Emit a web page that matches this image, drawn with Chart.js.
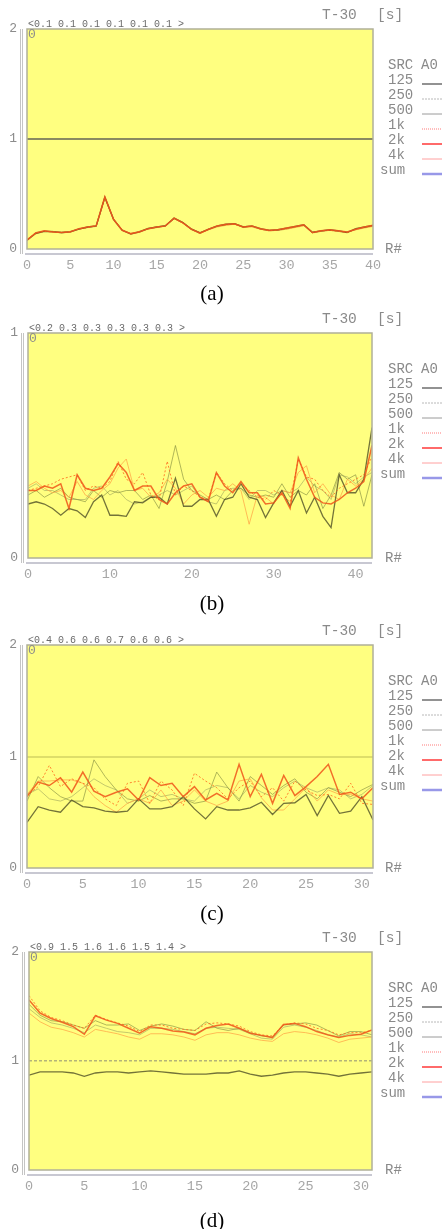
<!DOCTYPE html>
<html lang="en">
<head>
<meta charset="UTF-8">
<title>T-30 per receiver</title>
<script src="https://cdn.jsdelivr.net/npm/chart.js"></script>
<style>
  body { margin: 0; background: #fff; }
  #page { position: relative; width: 442px; height: 1229px; overflow: hidden; }
  #page canvas { position: absolute; left: 0; }
  .cap { position: absolute; left: 0; width: 424px; text-align: center; font: 21px "Liberation Serif", "Times New Roman", serif; color: #000; line-height: 24px; }
</style>
</head>
<body>
<div id="page">
  <canvas id="ca" width="442" height="300" style="top:0px"></canvas>
  <canvas id="cb" width="442" height="300" style="top:304px"></canvas>
  <canvas id="cc" width="442" height="300" style="top:616px"></canvas>
  <canvas id="cd" width="442" height="300" style="top:923px"></canvas>
  <div class="cap" style="top:281px">(a)</div>
  <div class="cap" style="top:591px">(b)</div>
  <div class="cap" style="top:901px">(c)</div>
  <div class="cap" style="top:1208px">(d)</div>
</div>
<script>
// octave bands shown in the legend
const bands = ['125', '250', '500', '1k', '2k', '4k', 'sum'];

// (a)  T-30 per receiver, 0..40
const aHead = '<0.1 0.1 0.1 0.1 0.1 0.1 >';
const a125 = [0.08,0.14,0.16,0.155,0.15,0.155,0.18,0.2,0.21,0.47,0.27,0.17,0.135,0.155,0.185,0.2,0.21,0.28,0.24,0.18,0.145,0.18,0.21,0.225,0.23,0.2,0.21,0.185,0.17,0.175,0.19,0.205,0.22,0.15,0.165,0.175,0.165,0.15,0.185,0.2,0.215];
const a250 = [0.085,0.145,0.165,0.16,0.15,0.16,0.185,0.195,0.21,0.475,0.275,0.175,0.14,0.16,0.19,0.2,0.215,0.285,0.245,0.185,0.15,0.18,0.205,0.22,0.23,0.205,0.205,0.18,0.17,0.17,0.185,0.2,0.215,0.155,0.165,0.17,0.16,0.15,0.18,0.195,0.21];
const a500 = [0.08,0.15,0.16,0.16,0.145,0.155,0.18,0.195,0.205,0.465,0.27,0.17,0.14,0.155,0.185,0.195,0.21,0.275,0.24,0.18,0.15,0.175,0.205,0.22,0.225,0.2,0.205,0.18,0.165,0.17,0.18,0.2,0.215,0.15,0.16,0.17,0.165,0.155,0.175,0.195,0.21];
const a1k = [0.085,0.145,0.16,0.155,0.15,0.16,0.18,0.195,0.215,0.47,0.27,0.175,0.135,0.16,0.185,0.2,0.205,0.28,0.235,0.18,0.14,0.18,0.21,0.22,0.225,0.2,0.21,0.18,0.165,0.175,0.185,0.2,0.22,0.15,0.165,0.17,0.16,0.15,0.18,0.2,0.21];
const a2k = [0.08,0.145,0.165,0.155,0.15,0.155,0.185,0.2,0.21,0.475,0.27,0.17,0.14,0.155,0.185,0.2,0.21,0.28,0.24,0.18,0.145,0.18,0.21,0.225,0.23,0.2,0.21,0.185,0.17,0.175,0.19,0.205,0.22,0.15,0.165,0.175,0.165,0.155,0.18,0.2,0.215];
const a4k = [0.09,0.14,0.16,0.16,0.15,0.16,0.18,0.2,0.205,0.46,0.27,0.17,0.14,0.16,0.18,0.195,0.21,0.275,0.235,0.175,0.14,0.175,0.2,0.215,0.225,0.195,0.2,0.18,0.165,0.17,0.18,0.195,0.21,0.145,0.16,0.17,0.16,0.15,0.175,0.19,0.205];

// (b)  0..42
const bHead = '<0.2 0.3 0.3 0.3 0.3 0.3 >';
const b125 = [0.24,0.25,0.24,0.22,0.19,0.22,0.21,0.18,0.25,0.28,0.19,0.19,0.185,0.25,0.245,0.27,0.27,0.24,0.355,0.23,0.23,0.26,0.26,0.185,0.26,0.27,0.33,0.27,0.26,0.18,0.245,0.3,0.23,0.3,0.2,0.27,0.185,0.135,0.37,0.29,0.29,0.35,0.58];
const b250 = [0.28,0.3,0.27,0.29,0.31,0.27,0.26,0.25,0.3,0.27,0.3,0.29,0.3,0.3,0.26,0.28,0.22,0.34,0.5,0.35,0.3,0.28,0.26,0.28,0.26,0.3,0.31,0.28,0.27,0.28,0.27,0.33,0.27,0.3,0.28,0.33,0.22,0.28,0.38,0.35,0.37,0.23,0.37];
const b500 = [0.31,0.33,0.3,0.3,0.28,0.26,0.26,0.26,0.31,0.32,0.28,0.3,0.26,0.24,0.25,0.27,0.28,0.3,0.28,0.3,0.32,0.27,0.25,0.24,0.3,0.31,0.31,0.26,0.3,0.3,0.28,0.3,0.29,0.31,0.36,0.32,0.3,0.26,0.37,0.36,0.33,0.36,0.38];
const b1k = [0.3,0.31,0.32,0.33,0.35,0.36,0.37,0.3,0.32,0.31,0.34,0.43,0.35,0.33,0.38,0.28,0.26,0.43,0.28,0.32,0.3,0.27,0.26,0.38,0.33,0.3,0.33,0.3,0.27,0.26,0.3,0.28,0.25,0.44,0.36,0.35,0.3,0.27,0.31,0.33,0.35,0.37,0.45];
const b2k = [0.3,0.3,0.32,0.31,0.33,0.22,0.37,0.31,0.3,0.31,0.36,0.42,0.38,0.3,0.32,0.32,0.26,0.24,0.29,0.32,0.33,0.27,0.25,0.38,0.32,0.29,0.34,0.29,0.29,0.24,0.245,0.29,0.22,0.445,0.35,0.27,0.245,0.24,0.26,0.29,0.31,0.34,0.5];
const b4k = [0.32,0.34,0.31,0.29,0.3,0.27,0.34,0.28,0.26,0.3,0.33,0.4,0.44,0.3,0.31,0.27,0.29,0.35,0.31,0.24,0.28,0.3,0.27,0.31,0.3,0.33,0.3,0.15,0.28,0.27,0.24,0.3,0.29,0.38,0.41,0.29,0.33,0.28,0.26,0.35,0.32,0.35,0.4];

// (c)  0..31
const cHead = '<0.4 0.6 0.6 0.7 0.6 0.6 >';
const c125 = [0.41,0.55,0.52,0.5,0.61,0.55,0.54,0.51,0.5,0.51,0.62,0.53,0.53,0.55,0.64,0.53,0.44,0.55,0.52,0.52,0.54,0.59,0.48,0.58,0.585,0.66,0.47,0.65,0.49,0.51,0.64,0.43];
const c250 = [0.6,0.82,0.72,0.64,0.6,0.6,0.97,0.82,0.7,0.62,0.6,0.65,0.6,0.62,0.62,0.58,0.6,0.86,0.72,0.6,0.82,0.74,0.66,0.74,0.8,0.68,0.62,0.72,0.68,0.64,0.7,0.75];
const c500 = [0.66,0.71,0.62,0.6,0.64,0.72,0.8,0.74,0.7,0.58,0.62,0.7,0.64,0.66,0.62,0.6,0.7,0.74,0.72,0.62,0.74,0.68,0.64,0.72,0.78,0.72,0.68,0.72,0.7,0.62,0.66,0.74];
const c1k = [0.65,0.73,0.92,0.73,0.8,0.76,0.72,0.62,0.56,0.76,0.78,0.58,0.78,0.7,0.56,0.85,0.78,0.72,0.62,0.72,0.78,0.64,0.72,0.6,0.78,0.7,0.65,0.66,0.62,0.76,0.58,0.57];
const c2k = [0.64,0.77,0.74,0.81,0.68,0.86,0.69,0.64,0.68,0.71,0.61,0.81,0.74,0.76,0.64,0.73,0.61,0.67,0.61,0.93,0.64,0.84,0.58,0.83,0.65,0.73,0.82,0.93,0.66,0.68,0.62,0.72];
const c4k = [0.66,0.78,0.78,0.79,0.79,0.76,0.64,0.56,0.5,0.58,0.62,0.58,0.7,0.56,0.6,0.7,0.6,0.56,0.6,0.78,0.8,0.63,0.52,0.52,0.62,0.72,0.6,0.7,0.66,0.66,0.62,0.6];

// (d)  0..31
const dHead = '<0.9 1.5 1.6 1.6 1.5 1.4 >';
const d125 = [0.87,0.9,0.9,0.9,0.89,0.86,0.89,0.9,0.9,0.89,0.9,0.91,0.9,0.89,0.88,0.88,0.88,0.89,0.89,0.91,0.88,0.86,0.87,0.89,0.9,0.9,0.89,0.88,0.86,0.88,0.89,0.9];
const d250 = [1.52,1.42,1.37,1.36,1.33,1.3,1.37,1.33,1.33,1.34,1.28,1.32,1.34,1.32,1.29,1.28,1.36,1.3,1.28,1.3,1.26,1.23,1.22,1.33,1.34,1.35,1.33,1.28,1.23,1.27,1.27,1.24];
const d500 = [1.48,1.4,1.35,1.33,1.3,1.26,1.33,1.3,1.27,1.26,1.24,1.3,1.3,1.29,1.27,1.25,1.3,1.31,1.3,1.29,1.25,1.21,1.2,1.31,1.33,1.31,1.28,1.24,1.22,1.25,1.24,1.22];
const d1k = [1.6,1.46,1.4,1.37,1.33,1.3,1.42,1.38,1.35,1.32,1.27,1.33,1.33,1.3,1.29,1.28,1.34,1.35,1.34,1.32,1.27,1.24,1.23,1.33,1.35,1.34,1.3,1.28,1.24,1.26,1.26,1.28];
const d2k = [1.56,1.44,1.39,1.355,1.315,1.245,1.415,1.375,1.345,1.3,1.255,1.315,1.3,1.275,1.265,1.24,1.3,1.325,1.34,1.3,1.255,1.235,1.215,1.335,1.345,1.315,1.27,1.24,1.215,1.235,1.245,1.285];
const d4k = [1.44,1.36,1.31,1.29,1.26,1.22,1.29,1.27,1.25,1.22,1.2,1.25,1.25,1.24,1.22,1.19,1.24,1.26,1.26,1.24,1.21,1.19,1.18,1.25,1.27,1.26,1.24,1.21,1.17,1.2,1.21,1.22];

// line look per band (plot and legend sample); lower order is drawn on top
const lineStyle = [
  { color: 'rgba(55,55,25,0.7)', width: 1.3, dash: [], order: 2 },
  { color: 'rgba(125,135,60,0.6)', width: 1, dash: [], order: 4 },
  { color: 'rgba(165,170,95,0.65)', width: 1, dash: [], order: 5 },
  { color: 'rgba(255,110,30,0.85)', width: 1, dash: [2, 2], order: 1 },
  { color: 'rgba(240,85,25,0.85)', width: 1.5, dash: [], order: 0 },
  { color: 'rgba(255,165,70,0.75)', width: 1, dash: [], order: 3 }
];
const legendStyle = [
  { color: '#6e6e6e', width: 1.5, dash: [] },
  { color: '#b8b8b8', width: 1, dash: [2, 1] },
  { color: '#9a9a9a', width: 1, dash: [] },
  { color: '#ff7a7a', width: 1, dash: [1, 1] },
  { color: '#ff6a6a', width: 2, dash: [] },
  { color: '#ffa0a0', width: 1, dash: [] },
  { color: '#9898e8', width: 2.5, dash: [] }
];

const mono = '"Liberation Mono", "DejaVu Sans Mono", monospace';

const decor = {
  id: 'decor',
  beforeDraw(chart) {
    const { ctx, chartArea: a } = chart;
    ctx.save();
    ctx.fillStyle = '#ffff80';
    ctx.fillRect(a.left, a.top, a.right - a.left, a.bottom - a.top);
    ctx.restore();
  },
  afterDraw(chart, args, o) {
    const { ctx, chartArea: a } = chart;
    ctx.save();
    // frame
    ctx.strokeStyle = '#b0b098';
    ctx.lineWidth = 1.5;
    ctx.strokeRect(a.left, a.top, a.right - a.left, a.bottom - a.top);
    // left double bar and bottom rule
    ctx.strokeStyle = '#c4c4c4';
    ctx.lineWidth = 1;
    [a.left - 6.5, a.left - 4.5].forEach(x => {
      ctx.beginPath(); ctx.moveTo(x, a.top); ctx.lineTo(x, a.bottom + 5); ctx.stroke();
    });
    ctx.strokeStyle = '#c8c8d2';
    ctx.lineWidth = 2;
    ctx.beginPath(); ctx.moveTo(a.left - 2, a.bottom + 5); ctx.lineTo(a.right, a.bottom + 5); ctx.stroke();

    ctx.textBaseline = 'middle';
    ctx.textAlign = 'left';
    // "0" in corner
    ctx.fillStyle = '#8c8c8c';
    ctx.font = '13px ' + mono;
    ctx.fillText('0', a.left + 1, a.top + 6);
    // title and unit
    ctx.font = '14.5px ' + mono;
    ctx.fillStyle = '#8a8a8a';
    ctx.fillText('T-30', 322, a.top - 14);
    ctx.fillText('[s]', 377, a.top - 14);
    // averages line
    ctx.font = '10px ' + mono;
    ctx.fillStyle = '#6a6a6a';
    ctx.fillText(o.head, a.left + 1, a.top - 5);
    // R#
    ctx.font = '14px ' + mono;
    ctx.fillStyle = '#8a8a8a';
    ctx.fillText('R#', 385, a.bottom);
    // legend
    ctx.fillText('SRC', 388, a.top + 36);
    ctx.fillText('A0', 421, a.top + 36);
    bands.forEach((b, i) => {
      const y = a.top + 36 + 15 * (i + 1);
      ctx.fillStyle = '#8a8a8a';
      ctx.fillText(b, b === 'sum' ? 380 : 388, y);
      const s = legendStyle[i];
      ctx.strokeStyle = s.color;
      ctx.lineWidth = s.width;
      ctx.setLineDash(s.dash);
      ctx.beginPath(); ctx.moveTo(422, y + 4); ctx.lineTo(442, y + 4); ctx.stroke();
      ctx.setLineDash([]);
    });
    ctx.restore();
  }
};

function makePanel(id, series, head, yMax, xMax, xStep, box, ref) {
  const datasets = series.map((vals, i) => ({
    label: bands[i],
    data: vals.map((v, r) => ({ x: r, y: v })),
    borderColor: lineStyle[i].color,
    borderWidth: lineStyle[i].width,
    borderDash: lineStyle[i].dash,
    order: lineStyle[i].order,
    pointRadius: 0,
    tension: 0,
    fill: false
  }));
  const plotH = box.bottom - box.top;
  new Chart(document.getElementById(id), {
    type: 'line',
    data: { datasets: datasets },
    options: {
      responsive: false,
      animation: false,
      devicePixelRatio: 1,
      layout: { padding: { top: 29, left: 0, right: 442 - box.right, bottom: 0 } },
      plugins: { legend: { display: false }, tooltip: { enabled: false }, decor: { head: head } },
      scales: {
        x: {
          type: 'linear', min: 0, max: xMax,
          afterFit: s => { s.height = 300 - 29 - plotH; },
          border: { display: false },
          grid: { display: false, drawTicks: false },
          ticks: { stepSize: xStep, includeBounds: false, padding: 8, maxRotation: 0,
                   color: '#a6a6a6', font: { family: mono, size: 13.5 } }
        },
        y: {
          min: 0, max: yMax,
          afterFit: s => { s.width = box.left; },
          border: { display: false, dash: (ref && ref.dash) ? ref.dash : [] },
          grid: {
            drawTicks: false,
            color: c => (ref && c.tick && c.tick.value === 1) ? ref.color : 'rgba(0,0,0,0)',
            lineWidth: ref ? ref.width : 0
          },
          ticks: { stepSize: 1, padding: 10, color: '#8c8c8c', font: { family: mono, size: 13 } }
        }
      }
    },
    plugins: [decor]
  });
}

makePanel('ca', [a125, a250, a500, a1k, a2k, a4k], aHead, 2, 40, 5,
  { left: 27, right: 373, top: 29, bottom: 249 }, { color: '#8a8a60', width: 2 });
makePanel('cb', [b125, b250, b500, b1k, b2k, b4k], bHead, 1, 42, 10,
  { left: 28, right: 372, top: 29, bottom: 254 }, null);
makePanel('cc', [c125, c250, c500, c1k, c2k, c4k], cHead, 2, 31, 5,
  { left: 27, right: 373, top: 29, bottom: 252 }, { color: '#dede6a', width: 2 });
makePanel('cd', [d125, d250, d500, d1k, d2k, d4k], dHead, 2, 31, 5,
  { left: 29, right: 372, top: 29, bottom: 247 }, { color: '#b4b478', width: 1.5, dash: [3, 2] });
</script>
</body>
</html>
